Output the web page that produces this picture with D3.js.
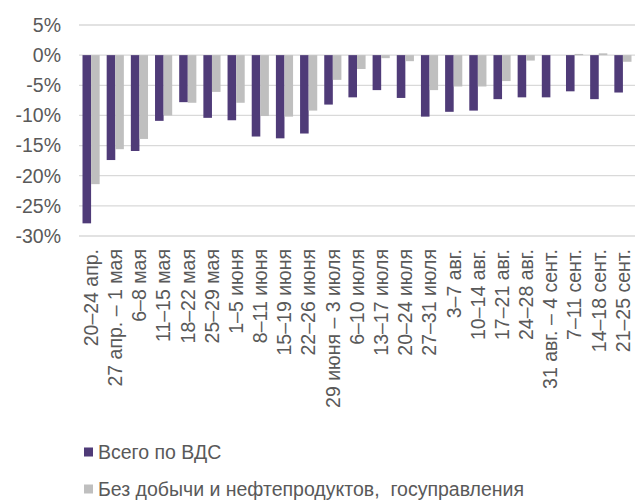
<!DOCTYPE html>
<html>
<head>
<meta charset="utf-8">
<script src="https://cdn.jsdelivr.net/npm/d3@7"></script>
<style>
  body { margin: 0; background: #fff; }
  text { font-family: "Liberation Sans", Arial, sans-serif; fill: #595959; }
</style>
</head>
<body>
<script>
const width = 637;
const height = 500;

// weekly periods
const weeks = ["20–24 апр.", "27 апр. – 1 мая", "6–8 мая", "11–15 мая", "18–22 мая", "25–29 мая",
  "1–5 июня", "8–11 июня", "15–19 июня", "22–26 июня", "29 июня – 3 июля", "6–10 июля",
  "13–17 июля", "20–24 июля", "27–31 июля", "3–7 авг.", "10–14 авг.", "17–21 авг.",
  "24–28 авг.", "31 авг. – 4 сент.", "7–11 сент.", "14–18 сент.", "21–25 сент."];

const totalGva = [-27.9, -17.4, -15.9, -10.9, -7.8, -10.4, -10.8, -13.5, -13.8, -13.0, -8.2, -7.0,
  -5.8, -7.1, -10.2, -9.4, -9.2, -7.3, -7.0, -7.0, -6.0, -7.3, -6.2];
const exOilGov = [-21.4, -15.6, -13.9, -10.0, -7.9, -6.1, -7.9, -10.1, -10.2, -9.2, -4.1, -2.3,
  -0.5, -1.0, -5.8, -5.2, -5.2, -4.3, -0.9, 0, 0.2, 0.3, -1.1];

const seriesNames = ["Всего по ВДС", "Без добычи и нефтепродуктов,  госуправления"];
const seriesColors = ["#4f3b78", "#bfbfbf"];
const yTicks = [5, 0, -5, -10, -15, -20, -25, -30];

let svg = d3.select("body").append("svg")
  .attr("width", width)
  .attr("height", height);

let x = d3.scaleBand()
  .domain(weeks)
  .range([79, 635])
  .paddingInner(0.29)
  .paddingOuter(0.145);

let xSub = d3.scaleBand()
  .domain([0, 1])
  .range([0, x.bandwidth()]);

let y = d3.scaleLinear()
  .domain([-30, 5])
  .range([236, 25]);

// gridlines
svg.append("g")
  .selectAll("line")
  .data(yTicks)
  .enter().append("line")
  .attr("x1", 79)
  .attr("x2", 635)
  .attr("y1", d => y(d))
  .attr("y2", d => y(d))
  .attr("stroke", "#d9d9d9")
  .attr("stroke-width", 1.3);

// y labels
svg.append("g")
  .selectAll("text")
  .data(yTicks)
  .enter().append("text")
  .attr("x", 61)
  .attr("y", d => y(d))
  .attr("dy", "0.35em")
  .attr("text-anchor", "end")
  .style("font-size", "19.5px")
  .text(d => d + "%");

// bars
[totalGva, exOilGov].forEach(function(vals, s) {
  svg.append("g")
    .selectAll("rect")
    .data(vals)
    .enter().append("rect")
    .attr("x", (d, i) => x(weeks[i]) + xSub(s))
    .attr("width", xSub.bandwidth())
    .attr("y", d => y(Math.max(0, d)))
    .attr("height", d => Math.abs(y(d) - y(0)))
    .attr("fill", seriesColors[s]);
});

// category labels
svg.append("g")
  .selectAll("text")
  .data(weeks)
  .enter().append("text")
  .attr("transform", d => "translate(" + (x(d) + x.bandwidth() / 2) + ",249) rotate(-90)")
  .attr("dy", "0.35em")
  .attr("text-anchor", "end")
  .style("font-size", "19.5px")
  .text(d => d);

// legend
let legend = svg.append("g")
  .selectAll("g")
  .data(seriesNames)
  .enter().append("g")
  .attr("transform", (d, i) => "translate(84," + (452 + i * 37) + ")");

legend.append("rect")
  .attr("x", 0)
  .attr("y", -4.5)
  .attr("width", 9)
  .attr("height", 9)
  .attr("fill", (d, i) => seriesColors[i]);

legend.append("text")
  .attr("x", 14)
  .attr("dy", "0.35em")
  .style("font-size", "19.5px")
  .style("white-space", "pre")
  .text(d => d);
</script>
</body>
</html>
